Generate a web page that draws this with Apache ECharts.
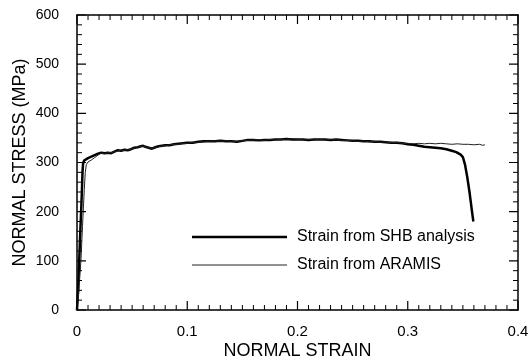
<!DOCTYPE html>
<html>
<head>
<meta charset="utf-8">
<script src="https://cdn.jsdelivr.net/npm/echarts@6/dist/echarts.min.js"></script>
<style>html,body{margin:0;padding:0;background:#fff;}#chart{width:528px;height:360px;}</style>
</head>
<body>
<div id="chart"></div>
<script>
const seriesNames = ['Strain from SHB analysis', 'Strain from ARAMIS'];
const xTicks = [0, 0.1, 0.2, 0.3, 0.4];
const yTicks = [0, 100, 200, 300, 400, 500, 600];
const xMinorSplit = 10;
const yMinorSplit = 5;

const shb = [
  [0,0],[0.001,40],[0.002,100],[0.003,160],[0.004,215],[0.0045,245],[0.005,280],[0.0055,298],[0.0065,304],[0.008,307],
  [0.010,309],[0.012,311],[0.014,313],[0.016,315],[0.019,318],[0.022,320],[0.025,319],[0.028,320],[0.031,319],[0.034,322],
  [0.037,325],[0.040,324],[0.043,326],[0.046,325],[0.049,327],[0.052,330],[0.055,331],[0.058,333],[0.060,334],[0.062,332],
  [0.065,330],[0.068,328],[0.071,331],[0.074,333],[0.077,334],[0.080,335],[0.084,335],[0.088,337],[0.092,338],[0.096,339],
  [0.100,340],[0.105,340],[0.110,342],[0.115,343],[0.120,343],[0.125,343],[0.130,344],[0.135,343],[0.140,343],[0.145,342],
  [0.150,344],[0.155,346],[0.160,346],[0.165,345],[0.170,346],[0.175,346],[0.180,347],[0.185,347],[0.190,348],[0.195,347],
  [0.200,347],[0.205,347],[0.210,346],[0.215,347],[0.220,347],[0.225,347],[0.230,346],[0.235,347],[0.240,346],[0.245,345],
  [0.250,344],[0.255,344],[0.260,343],[0.265,343],[0.270,342],[0.275,342],[0.280,341],[0.285,340],[0.290,340],[0.295,339],
  [0.300,337],[0.305,336],[0.310,334],[0.315,332],[0.320,331],[0.325,330],[0.330,329],[0.335,327],[0.340,324],[0.344,321],
  [0.348,316],[0.350,311],[0.352,295],[0.354,270],[0.356,240],[0.358,205],[0.3595,180]
];

const aramis = [
  [0,0],[0.001,20],[0.002,50],[0.0036,102],[0.005,170],[0.0066,245],[0.0075,280],[0.0085,296],[0.010,301],[0.013,305],
  [0.016,310],[0.019,315],[0.022,319],[0.025,318],[0.028,320],[0.031,320],[0.034,322],[0.037,324],[0.040,325],[0.043,325],
  [0.046,326],[0.049,327],[0.052,329],[0.055,331],[0.058,333],[0.060,333],[0.062,332],[0.065,330],[0.068,329],[0.071,331],
  [0.074,332],[0.077,334],[0.080,334],[0.084,336],[0.088,337],[0.092,337],[0.096,339],[0.100,339],[0.105,341],[0.110,341],
  [0.115,342],[0.120,343],[0.125,344],[0.130,343],[0.135,344],[0.140,343],[0.145,343],[0.150,344],[0.155,345],[0.160,346],
  [0.165,346],[0.170,345],[0.175,347],[0.180,346],[0.185,347],[0.190,347],[0.195,348],[0.200,347],[0.205,346],[0.210,347],
  [0.215,346],[0.220,347],[0.225,346],[0.230,347],[0.235,346],[0.240,345],[0.245,345],[0.250,344],[0.255,343],[0.260,344],
  [0.265,342],[0.270,343],[0.275,341],[0.280,342],[0.285,340],[0.290,341],[0.295,339],[0.300,339],[0.305,338],[0.310,339],
  [0.315,338],[0.320,339],[0.325,338],[0.330,339],[0.335,338],[0.340,337],[0.345,338],[0.350,337],[0.355,337],[0.360,336],
  [0.365,337],[0.368,335],[0.370,336]
];

const font = 'Arial, "Liberation Sans", Helvetica, sans-serif';
const chart = echarts.init(document.getElementById('chart'), null, {renderer: 'canvas'});

const xMin = xTicks[0], xMax = xTicks[xTicks.length - 1];
const yMin = yTicks[0], yMax = yTicks[yTicks.length - 1];

const GRID = {left: 77, right: 10, top: 15, bottom: 50};
const plotW = 528 - GRID.left - GRID.right;
const plotH = 360 - GRID.top - GRID.bottom;
const xPerPx = (xMax - xMin) / plotW;
const yPerPx = (yMax - yMin) / plotH;
const MAJOR_LEN = 9, MINOR_LEN = 5;

function frameAxis(pos, isX, labelled) {
  return {
    type: 'value',
    position: pos,
    min: isX ? xMin : yMin,
    max: isX ? xMax : yMax,
    interval: isX ? 0.1 : 100,
    axisLine: {show: true, onZero: false, lineStyle: {color: '#000', width: 1.5}},
    axisTick: {show: false},
    minorTick: {show: false},
    splitLine: {show: false},
    axisLabel: {show: labelled}
  };
}

const xBottom = frameAxis('bottom', true, true);
Object.assign(xBottom, {
  name: 'NORMAL STRAIN', nameLocation: 'middle', nameGap: 32, nameMoveOverlap: false,
  nameTextStyle: {fontFamily: font, fontSize: 18, color: '#000'},
  axisLabel: {show: true, fontFamily: font, fontSize: 15, color: '#000', margin: 14,
    formatter: v => String(Math.round(v * 10) / 10)}
});

const yLeft = frameAxis('left', false, true);
Object.assign(yLeft, {
  name: 'NORMAL STRESS (MPa)', nameLocation: 'middle', nameGap: 48, nameMoveOverlap: false,
  nameTextStyle: {fontFamily: font, fontSize: 18, color: '#000'},
  axisLabel: {show: true, fontFamily: font, fontSize: 14, color: '#000', margin: 18}
});

// Tick values: majors from the tick arrays, minors subdividing them.
function tickList(majors, split) {
  const out = [];
  for (let i = 0; i < majors.length; i++) {
    out.push({v: majors[i], major: true});
    if (i < majors.length - 1) {
      const step = (majors[i + 1] - majors[i]) / split;
      for (let k = 1; k < split; k++) out.push({v: majors[i] + step * k, major: false});
    }
  }
  return out;
}

// Inward tick segments (frame on all four sides), separated by gaps.
function tickSegments(wantMajor) {
  const gap = ['-', '-'];
  const segs = [];
  tickList(xTicks, xMinorSplit).filter(t => t.major === wantMajor).forEach(t => {
    const L = (t.major ? MAJOR_LEN : MINOR_LEN) * yPerPx;
    segs.push([t.v, yMin], [t.v, yMin + L], gap);
    segs.push([t.v, yMax], [t.v, yMax - L], gap);
  });
  tickList(yTicks, yMinorSplit).filter(t => t.major === wantMajor).forEach(t => {
    const L = (t.major ? MAJOR_LEN : MINOR_LEN) * xPerPx;
    segs.push([xMin, t.v], [xMin + L, t.v], gap);
    segs.push([xMax, t.v], [xMax - L, t.v], gap);
  });
  return segs;
}

function tickSeries(wantMajor) {
  return {
    type: 'line', data: tickSegments(wantMajor), xAxisIndex: 0, yAxisIndex: 0,
    symbol: 'none', showSymbol: false, connectNulls: false, silent: true, clip: false,
    lineStyle: {color: '#000', width: wantMajor ? 1.2 : 1}, z: 4
  };
}

chart.setOption({
  animation: false,
  backgroundColor: '#fff',
  grid: Object.assign({containLabel: false, outerBoundsMode: 'none'}, GRID),
  legend: {
    orient: 'vertical', left: 192, top: 229, padding: 0,
    itemWidth: 95, itemHeight: 10, itemGap: 12,
    data: [
      {name: seriesNames[0], icon: 'path://M0,0L0,0M0,10L0,10M0,3.75H100V6.25H0Z', itemStyle: {color: '#000', borderWidth: 0}},
      {name: seriesNames[1], icon: 'path://M0,0L0,0M0,10L0,10M0,4.5H100V5.5H0Z', itemStyle: {color: '#222', borderWidth: 0}}
    ],
    textStyle: {fontFamily: font, fontSize: 16, color: '#000', padding: [0, 0, 0, 5]}
  },
  xAxis: [xBottom, frameAxis('top', true, false)],
  yAxis: [yLeft, frameAxis('right', false, false)],
  series: [
    {
      name: seriesNames[0], type: 'line', data: shb, xAxisIndex: 0, yAxisIndex: 0,
      symbol: 'none', showSymbol: false, lineStyle: {color: '#000', width: 2.5}, itemStyle: {color: '#000'}
    },
    {
      name: seriesNames[1], type: 'line', data: aramis, xAxisIndex: 0, yAxisIndex: 0,
      symbol: 'none', showSymbol: false, lineStyle: {color: '#222', width: 1}, itemStyle: {color: '#222'}
    },
    tickSeries(true),
    tickSeries(false),
    {type: 'line', data: [], xAxisIndex: 1, yAxisIndex: 1, silent: true}
  ]
});
</script>
</body>
</html>
